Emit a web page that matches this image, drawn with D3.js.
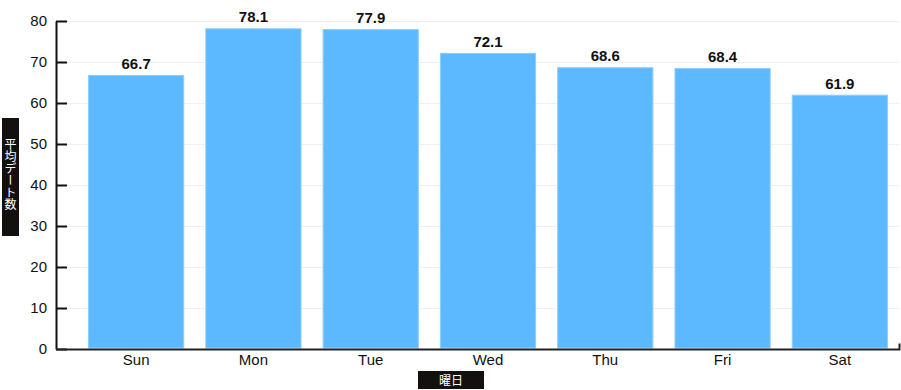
<!DOCTYPE html>
<html>
<head>
<meta charset="utf-8">
<title>曜日別 平均デート数</title>
<style>
    body { margin: 0; background: #fff; }
    svg { display: block; font-family: "Liberation Sans", Arial, sans-serif; }
    .grid line { stroke: #f0f0f0; stroke-width: 1px; }
    .grid path { display: none; }
    .yaxis text, .xaxis text { font-size: 15px; fill: #111; }
    .bar { fill: #5cb8ff; stroke: #8ccdff; stroke-width: 1px; }
    .value { font-size: 15px; font-weight: bold; fill: #111; text-anchor: middle; }
    .labelbox { fill: #141010; }
    .labeltext { fill: #fff; font-size: 12px; font-family: "Noto Sans CJK JP", sans-serif; }
</style>
</head>
<body>
<script src="https://d3js.org/d3.v7.min.js"></script>
<script>
    var days = ["Sun", "Mon", "Tue", "Wed", "Thu", "Fri", "Sat"];
    var avgDates = [66.7, 78.1, 77.9, 72.1, 68.6, 68.4, 61.9];
    var yTicks = [0, 10, 20, 30, 40, 50, 60, 70, 80];

    var width = 901,
        height = 390;

    var svg = d3.select("body").append("svg")
        .attr("width", width)
        .attr("height", height);

    var x = d3.scaleBand()
        .domain(days)
        .range([77.5, 898.5])
        .paddingInner(0.18)
        .paddingOuter(0.09);

    var y = d3.scaleLinear()
        .domain([0, 80])
        .range([349, 21]);

    // gridlines
    svg.append("g")
        .attr("class", "grid")
        .attr("transform", "translate(56,0)")
        .call(d3.axisRight(y).tickValues(yTicks).tickSize(843).tickFormat(""));

    // bars
    svg.selectAll(".bar")
        .data(avgDates)
        .enter().append("rect")
        .attr("class", "bar")
        .attr("x", function (d, i) { return x(days[i]) + 0.5; })
        .attr("width", x.bandwidth() - 1)
        .attr("y", function (d) { return y(d); })
        .attr("height", function (d) { return y(0) - y(d) - 1; });

    svg.selectAll(".value")
        .data(avgDates)
        .enter().append("text")
        .attr("class", "value")
        .attr("x", function (d, i) { return x(days[i]) + x.bandwidth() / 2; })
        .attr("y", function (d) { return y(d) - 6.5; })
        .text(function (d) { return d.toFixed(1); });

    // y axis, ticks pointing inward
    var yAxis = svg.append("g")
        .attr("class", "yaxis")
        .attr("transform", "translate(56,0)")
        .call(d3.axisRight(y).tickValues(yTicks).tickSize(11).tickSizeOuter(0));
    yAxis.select(".domain").attr("stroke", "#111").attr("stroke-width", 2);
    yAxis.selectAll(".tick line").attr("stroke", "#111").attr("stroke-width", 2);
    yAxis.selectAll(".tick text")
        .attr("x", -9)
        .attr("text-anchor", "end");

    // x axis
    var xAxis = svg.append("g")
        .attr("class", "xaxis")
        .attr("transform", "translate(0,349.5)")
        .call(d3.axisBottom(x).tickSize(0).tickPadding(5));
    xAxis.select(".domain")
        .attr("d", "M56,0H899.5V-6")
        .attr("stroke", "#222")
        .attr("stroke-width", 2)
        .attr("fill", "none");

    // y axis title
    svg.append("rect")
        .attr("class", "labelbox")
        .attr("x", 2).attr("y", 118)
        .attr("width", 17).attr("height", 118);
    svg.append("text")
        .attr("class", "labeltext")
        .attr("x", 10.5).attr("y", 174)
        .attr("text-anchor", "middle")
        .style("writing-mode", "vertical-rl")
        .style("dominant-baseline", "central")
        .text("平均デート数");

    // x axis title
    svg.append("rect")
        .attr("class", "labelbox")
        .attr("x", 418).attr("y", 371)
        .attr("width", 66).attr("height", 18);
    svg.append("text")
        .attr("class", "labeltext")
        .attr("x", 451).attr("y", 384.5)
        .attr("text-anchor", "middle")
        .text("曜日");
</script>
</body>
</html>
